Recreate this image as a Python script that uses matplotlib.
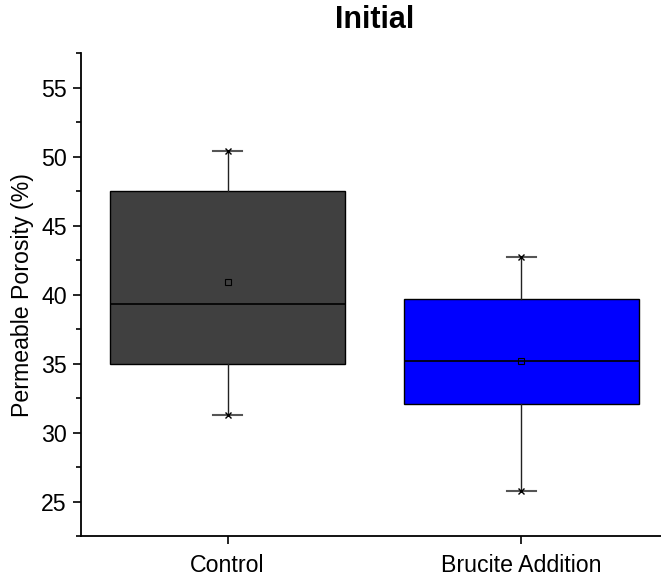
import matplotlib
matplotlib.use('Agg')
import matplotlib.pyplot as plt
from matplotlib.ticker import MultipleLocator

# data
groups = ['Control', 'Brucite Addition']
q1 = [35.0, 32.05]
med = [39.3, 35.2]
q3 = [47.5, 39.65]
lo = [31.3, 25.75]
hi = [50.4, 42.7]
mean = [40.9, 35.2]
fills = ['#404040', '#0000ff']

plt.rcParams['font.family'] = ['Liberation Sans', 'DejaVu Sans']

fig = plt.figure(figsize=(6.61, 5.83), dpi=100)
ax = fig.add_axes([0.122, 0.0806, 0.889, 0.828])

stats = []
for i in range(len(groups)):
    stats.append({'label': groups[i], 'q1': q1[i], 'med': med[i], 'q3': q3[i],
                  'whislo': lo[i], 'whishi': hi[i], 'mean': mean[i], 'fliers': []})

bp = ax.bxp(stats, positions=[1, 2], widths=0.8, patch_artist=True, showmeans=True,
            showcaps=True, capwidths=0.1,
            boxprops=dict(edgecolor='black', linewidth=1.0),
            medianprops=dict(color='black', linewidth=1.2),
            whiskerprops=dict(color='#222222', linewidth=1.0),
            capprops=dict(color='#555555', linewidth=1.5),
            meanprops=dict(marker='s', markersize=4, markerfacecolor='none',
                           markeredgecolor='black', markeredgewidth=0.8))
for patch, c in zip(bp['boxes'], fills):
    patch.set_facecolor(c)

# min / max markers
ax.plot([1, 2], lo, linestyle='none', marker='x', markersize=5, color='black', mew=1)
ax.plot([1, 2], hi, linestyle='none', marker='x', markersize=5, color='black', mew=1)

ax.set_xlim(0.5, 2.5)
ax.set_ylim(22.5, 57.5)
ax.yaxis.set_major_locator(MultipleLocator(5))
ax.yaxis.set_minor_locator(MultipleLocator(2.5))
ax.set_xticks([1, 2])
ax.set_xticklabels(groups)

ax.spines['top'].set_visible(False)
ax.spines['right'].set_visible(False)
ax.spines['left'].set_linewidth(1.3)
ax.spines['bottom'].set_linewidth(1.3)
ax.tick_params(axis='both', direction='out', labelsize=16.7, width=1.2, length=6)
ax.tick_params(axis='y', which='minor', direction='out', width=1.2, length=3.5)
ax.tick_params(axis='x', pad=7)
ax.tick_params(axis='y', pad=4)

ax.set_ylabel('Permeable Porosity (%)', fontsize=16.7, labelpad=5)
ax.set_title('Initial', fontsize=22, fontweight='bold', pad=18)

fig.savefig('out.png', dpi=100)
